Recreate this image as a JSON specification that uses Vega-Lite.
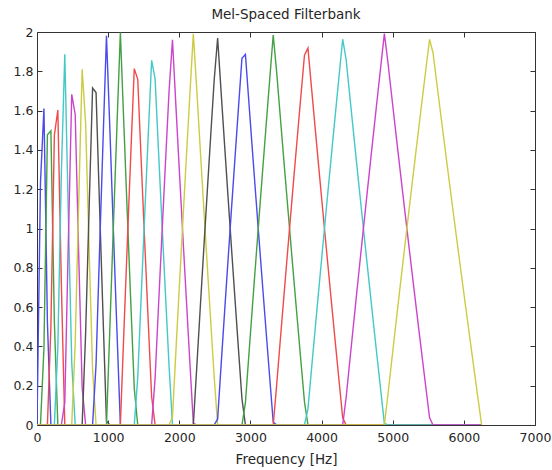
{
  "$schema": "https://vega.github.io/schema/vega-lite/v6.json",
  "width": 498,
  "height": 393,
  "autosize": {"type": "none"},
  "padding": {"left": 37, "top": 32, "right": 17, "bottom": 45},
  "background": "white",
  "title": {
    "text": "Mel-Spaced Filterbank",
    "font": "DejaVu Sans",
    "fontSize": 13.5,
    "fontWeight": "normal",
    "color": "#262626",
    "offset": 5
  },
  "config": {
    "view": {"stroke": "#333333", "strokeWidth": 1},
    "axis": {
      "grid": false,
      "domain": false,
      "tickColor": "#333333",
      "tickSize": -5,
      "tickWidth": 1,
      "labelFont": "DejaVu Sans",
      "labelFontSize": 12.5,
      "labelColor": "#262626",
      "titleFont": "DejaVu Sans",
      "titleFontSize": 13.5,
      "titleFontWeight": "normal",
      "titleColor": "#262626"
    }
  },
  "data": {
    "values": [
      {"k":"01","x":0,"y":0},{"k":"01","x":48.83,"y":1.2338},{"k":"01","x":97.66,"y":1.6104},{"k":"01","x":146.48,"y":0.5232},{"k":"01","x":195.31,"y":0},{"k":"01","x":6250,"y":0},
      {"k":"02","x":0,"y":0},{"k":"02","x":48.83,"y":0},{"k":"02","x":97.66,"y":0.3896},{"k":"02","x":146.48,"y":1.4768},{"k":"02","x":195.31,"y":1.4972},{"k":"02","x":244.14,"y":0.5254},{"k":"02","x":292.97,"y":0},{"k":"02","x":6250,"y":0},
      {"k":"03","x":0,"y":0},{"k":"03","x":146.48,"y":0},{"k":"03","x":195.31,"y":0.5028},{"k":"03","x":244.14,"y":1.4746},{"k":"03","x":292.97,"y":1.6028},{"k":"03","x":341.8,"y":0.7246},{"k":"03","x":390.63,"y":0},{"k":"03","x":6250,"y":0},
      {"k":"04","x":0,"y":0},{"k":"04","x":244.14,"y":0},{"k":"04","x":292.97,"y":0.3972},{"k":"04","x":341.8,"y":1.2754},{"k":"04","x":390.63,"y":1.8864},{"k":"04","x":439.45,"y":1.085},{"k":"04","x":488.28,"y":0.3172},{"k":"04","x":537.11,"y":0},{"k":"04","x":6250,"y":0},
      {"k":"05","x":0,"y":0},{"k":"05","x":341.8,"y":0},{"k":"05","x":390.63,"y":0.1136},{"k":"05","x":439.45,"y":0.915},{"k":"05","x":488.28,"y":1.6828},{"k":"05","x":537.11,"y":1.5804},{"k":"05","x":585.94,"y":0.8722},{"k":"05","x":634.77,"y":0.1902},{"k":"05","x":683.59,"y":0},{"k":"05","x":6250,"y":0},
      {"k":"06","x":0,"y":0},{"k":"06","x":488.28,"y":0},{"k":"06","x":537.11,"y":0.4196},{"k":"06","x":585.94,"y":1.1278},{"k":"06","x":634.77,"y":1.8098},{"k":"06","x":683.59,"y":1.533},{"k":"06","x":732.42,"y":0.8984},{"k":"06","x":781.25,"y":0.285},{"k":"06","x":830.08,"y":0},{"k":"06","x":6250,"y":0},
      {"k":"07","x":0,"y":0},{"k":"07","x":634.77,"y":0},{"k":"07","x":683.59,"y":0.467},{"k":"07","x":732.42,"y":1.1016},{"k":"07","x":781.25,"y":1.715},{"k":"07","x":830.08,"y":1.6916},{"k":"07","x":878.91,"y":1.1168},{"k":"07","x":927.73,"y":0.5596},{"k":"07","x":976.56,"y":0.0188},{"k":"07","x":1025.39,"y":0},{"k":"07","x":6250,"y":0},
      {"k":"08","x":0,"y":0},{"k":"08","x":781.25,"y":0},{"k":"08","x":830.08,"y":0.3084},{"k":"08","x":878.91,"y":0.8832},{"k":"08","x":927.73,"y":1.4404},{"k":"08","x":976.56,"y":1.9812},{"k":"08","x":1025.39,"y":1.4934},{"k":"08","x":1074.22,"y":0.9828},{"k":"08","x":1123.05,"y":0.486},{"k":"08","x":1171.88,"y":0.0024},{"k":"08","x":1220.7,"y":0},{"k":"08","x":6250,"y":0},
      {"k":"09","x":0,"y":0},{"k":"09","x":976.56,"y":0},{"k":"09","x":1025.39,"y":0.5066},{"k":"09","x":1074.22,"y":1.0172},{"k":"09","x":1123.05,"y":1.514},{"k":"09","x":1171.88,"y":1.9976},{"k":"09","x":1220.7,"y":1.5312},{"k":"09","x":1269.53,"y":1.072},{"k":"09","x":1318.36,"y":0.6238},{"k":"09","x":1367.19,"y":0.1864},{"k":"09","x":1416.02,"y":0},{"k":"09","x":6250,"y":0},
      {"k":"10","x":0,"y":0},{"k":"10","x":1171.88,"y":0},{"k":"10","x":1220.7,"y":0.4688},{"k":"10","x":1269.53,"y":0.928},{"k":"10","x":1318.36,"y":1.3762},{"k":"10","x":1367.19,"y":1.8136},{"k":"10","x":1416.02,"y":1.7592},{"k":"10","x":1464.84,"y":1.3418},{"k":"10","x":1513.67,"y":0.9338},{"k":"10","x":1562.5,"y":0.5346},{"k":"10","x":1611.33,"y":0.1438},{"k":"10","x":1660.16,"y":0},{"k":"10","x":6250,"y":0},
      {"k":"11","x":0,"y":0},{"k":"11","x":1367.19,"y":0},{"k":"11","x":1416.02,"y":0.2408},{"k":"11","x":1464.84,"y":0.6582},{"k":"11","x":1513.67,"y":1.0662},{"k":"11","x":1562.5,"y":1.4654},{"k":"11","x":1611.33,"y":1.8562},{"k":"11","x":1660.16,"y":1.7614},{"k":"11","x":1708.98,"y":1.3868},{"k":"11","x":1757.81,"y":1.0196},{"k":"11","x":1806.64,"y":0.6596},{"k":"11","x":1855.47,"y":0.3066},{"k":"11","x":1904.3,"y":0},{"k":"11","x":6250,"y":0},
      {"k":"12","x":0,"y":0},{"k":"12","x":1611.33,"y":0},{"k":"12","x":1660.16,"y":0.2386},{"k":"12","x":1708.98,"y":0.6132},{"k":"12","x":1757.81,"y":0.9804},{"k":"12","x":1806.64,"y":1.3404},{"k":"12","x":1855.47,"y":1.6934},{"k":"12","x":1904.3,"y":1.9602},{"k":"12","x":1953.13,"y":1.6204},{"k":"12","x":2001.95,"y":1.2868},{"k":"12","x":2050.78,"y":0.959},{"k":"12","x":2099.61,"y":0.637},{"k":"12","x":2148.44,"y":0.3206},{"k":"12","x":2197.27,"y":0.0096},{"k":"12","x":2246.09,"y":0},{"k":"12","x":6250,"y":0},
      {"k":"13","x":0,"y":0},{"k":"13","x":1855.47,"y":0},{"k":"13","x":1904.3,"y":0.0398},{"k":"13","x":1953.13,"y":0.3796},{"k":"13","x":2001.95,"y":0.7132},{"k":"13","x":2050.78,"y":1.041},{"k":"13","x":2099.61,"y":1.363},{"k":"13","x":2148.44,"y":1.6794},{"k":"13","x":2197.27,"y":1.9904},{"k":"13","x":2246.09,"y":1.7038},{"k":"13","x":2294.92,"y":1.403},{"k":"13","x":2343.75,"y":1.1072},{"k":"13","x":2392.58,"y":0.816},{"k":"13","x":2441.41,"y":0.5294},{"k":"13","x":2490.23,"y":0.2472},{"k":"13","x":2539.06,"y":0},{"k":"13","x":6250,"y":0},
      {"k":"14","x":0,"y":0},{"k":"14","x":2197.27,"y":0},{"k":"14","x":2246.09,"y":0.2962},{"k":"14","x":2294.92,"y":0.597},{"k":"14","x":2343.75,"y":0.8928},{"k":"14","x":2392.58,"y":1.184},{"k":"14","x":2441.41,"y":1.4706},{"k":"14","x":2490.23,"y":1.7528},{"k":"14","x":2539.06,"y":1.9692},{"k":"14","x":2587.89,"y":1.6954},{"k":"14","x":2636.72,"y":1.4256},{"k":"14","x":2685.55,"y":1.1598},{"k":"14","x":2734.38,"y":0.8978},{"k":"14","x":2783.2,"y":0.6396},{"k":"14","x":2832.03,"y":0.3848},{"k":"14","x":2880.86,"y":0.1336},{"k":"14","x":2929.69,"y":0},{"k":"14","x":6250,"y":0},
      {"k":"15","x":0,"y":0},{"k":"15","x":2490.23,"y":0},{"k":"15","x":2539.06,"y":0.0308},{"k":"15","x":2587.89,"y":0.3046},{"k":"15","x":2636.72,"y":0.5744},{"k":"15","x":2685.55,"y":0.8402},{"k":"15","x":2734.38,"y":1.1022},{"k":"15","x":2783.2,"y":1.3604},{"k":"15","x":2832.03,"y":1.6152},{"k":"15","x":2880.86,"y":1.8664},{"k":"15","x":2929.69,"y":1.8858},{"k":"15","x":2978.52,"y":1.6414},{"k":"15","x":3027.34,"y":1.4},{"k":"15","x":3076.17,"y":1.1618},{"k":"15","x":3125,"y":0.9268},{"k":"15","x":3173.83,"y":0.6946},{"k":"15","x":3222.66,"y":0.4654},{"k":"15","x":3271.48,"y":0.239},{"k":"15","x":3320.31,"y":0.0154},{"k":"15","x":3369.14,"y":0},{"k":"15","x":6250,"y":0},
      {"k":"16","x":0,"y":0},{"k":"16","x":2880.86,"y":0},{"k":"16","x":2929.69,"y":0.1142},{"k":"16","x":2978.52,"y":0.3586},{"k":"16","x":3027.34,"y":0.6},{"k":"16","x":3076.17,"y":0.8382},{"k":"16","x":3125,"y":1.0732},{"k":"16","x":3173.83,"y":1.3054},{"k":"16","x":3222.66,"y":1.5346},{"k":"16","x":3271.48,"y":1.761},{"k":"16","x":3320.31,"y":1.9846},{"k":"16","x":3369.14,"y":1.7946},{"k":"16","x":3417.97,"y":1.5764},{"k":"16","x":3466.8,"y":1.3606},{"k":"16","x":3515.63,"y":1.1476},{"k":"16","x":3564.45,"y":0.9368},{"k":"16","x":3613.28,"y":0.7286},{"k":"16","x":3662.11,"y":0.5226},{"k":"16","x":3710.94,"y":0.3188},{"k":"16","x":3759.77,"y":0.1174},{"k":"16","x":3808.59,"y":0},{"k":"16","x":6250,"y":0},
      {"k":"17","x":0,"y":0},{"k":"17","x":3320.31,"y":0},{"k":"17","x":3369.14,"y":0.2054},{"k":"17","x":3417.97,"y":0.4236},{"k":"17","x":3466.8,"y":0.6394},{"k":"17","x":3515.63,"y":0.8524},{"k":"17","x":3564.45,"y":1.0632},{"k":"17","x":3613.28,"y":1.2714},{"k":"17","x":3662.11,"y":1.4774},{"k":"17","x":3710.94,"y":1.6812},{"k":"17","x":3759.77,"y":1.8826},{"k":"17","x":3808.59,"y":1.9182},{"k":"17","x":3857.42,"y":1.721},{"k":"17","x":3906.25,"y":1.526},{"k":"17","x":3955.08,"y":1.333},{"k":"17","x":4003.91,"y":1.1422},{"k":"17","x":4052.73,"y":0.9532},{"k":"17","x":4101.56,"y":0.7662},{"k":"17","x":4150.39,"y":0.581},{"k":"17","x":4199.22,"y":0.3978},{"k":"17","x":4248.05,"y":0.2164},{"k":"17","x":4296.88,"y":0.0368},{"k":"17","x":4345.7,"y":0},{"k":"17","x":6250,"y":0},
      {"k":"18","x":0,"y":0},{"k":"18","x":3759.77,"y":0},{"k":"18","x":3808.59,"y":0.0818},{"k":"18","x":3857.42,"y":0.279},{"k":"18","x":3906.25,"y":0.474},{"k":"18","x":3955.08,"y":0.667},{"k":"18","x":4003.91,"y":0.8578},{"k":"18","x":4052.73,"y":1.0468},{"k":"18","x":4101.56,"y":1.2338},{"k":"18","x":4150.39,"y":1.419},{"k":"18","x":4199.22,"y":1.6022},{"k":"18","x":4248.05,"y":1.7836},{"k":"18","x":4296.88,"y":1.9632},{"k":"18","x":4345.7,"y":1.8588},{"k":"18","x":4394.53,"y":1.6826},{"k":"18","x":4443.36,"y":1.508},{"k":"18","x":4492.19,"y":1.3352},{"k":"18","x":4541.02,"y":1.164},{"k":"18","x":4589.84,"y":0.9942},{"k":"18","x":4638.67,"y":0.8262},{"k":"18","x":4687.5,"y":0.6596},{"k":"18","x":4736.33,"y":0.4944},{"k":"18","x":4785.16,"y":0.3308},{"k":"18","x":4833.98,"y":0.1688},{"k":"18","x":4882.81,"y":0.008},{"k":"18","x":4931.64,"y":0},{"k":"18","x":6250,"y":0},
      {"k":"19","x":0,"y":0},{"k":"19","x":4296.88,"y":0},{"k":"19","x":4345.7,"y":0.1412},{"k":"19","x":4394.53,"y":0.3174},{"k":"19","x":4443.36,"y":0.492},{"k":"19","x":4492.19,"y":0.6648},{"k":"19","x":4541.02,"y":0.836},{"k":"19","x":4589.84,"y":1.0058},{"k":"19","x":4638.67,"y":1.1738},{"k":"19","x":4687.5,"y":1.3404},{"k":"19","x":4736.33,"y":1.5056},{"k":"19","x":4785.16,"y":1.6692},{"k":"19","x":4833.98,"y":1.8312},{"k":"19","x":4882.81,"y":1.992},{"k":"19","x":4931.64,"y":1.8486},{"k":"19","x":4980.47,"y":1.6906},{"k":"19","x":5029.3,"y":1.534},{"k":"19","x":5078.13,"y":1.3788},{"k":"19","x":5126.95,"y":1.2248},{"k":"19","x":5175.78,"y":1.072},{"k":"19","x":5224.61,"y":0.9206},{"k":"19","x":5273.44,"y":0.7704},{"k":"19","x":5322.27,"y":0.6214},{"k":"19","x":5371.09,"y":0.4738},{"k":"19","x":5419.92,"y":0.3272},{"k":"19","x":5468.75,"y":0.1818},{"k":"19","x":5517.58,"y":0.0376},{"k":"19","x":5566.41,"y":0},{"k":"19","x":6250,"y":0},
      {"k":"20","x":0,"y":0},{"k":"20","x":4882.81,"y":0},{"k":"20","x":4931.64,"y":0.1514},{"k":"20","x":4980.47,"y":0.3094},{"k":"20","x":5029.3,"y":0.466},{"k":"20","x":5078.13,"y":0.6212},{"k":"20","x":5126.95,"y":0.7752},{"k":"20","x":5175.78,"y":0.928},{"k":"20","x":5224.61,"y":1.0794},{"k":"20","x":5273.44,"y":1.2296},{"k":"20","x":5322.27,"y":1.3786},{"k":"20","x":5371.09,"y":1.5262},{"k":"20","x":5419.92,"y":1.6728},{"k":"20","x":5468.75,"y":1.8182},{"k":"20","x":5517.58,"y":1.9624},{"k":"20","x":5566.41,"y":1.8944},{"k":"20","x":5615.23,"y":1.7526},{"k":"20","x":5664.06,"y":1.6118},{"k":"20","x":5712.89,"y":1.4718},{"k":"20","x":5761.72,"y":1.333},{"k":"20","x":5810.55,"y":1.1954},{"k":"20","x":5859.38,"y":1.0586},{"k":"20","x":5908.2,"y":0.9228},{"k":"20","x":5957.03,"y":0.7882},{"k":"20","x":6005.86,"y":0.6544},{"k":"20","x":6054.69,"y":0.5216},{"k":"20","x":6103.52,"y":0.3898},{"k":"20","x":6152.34,"y":0.259},{"k":"20","x":6201.17,"y":0.129},{"k":"20","x":6250,"y":0}
    ]
  },
  "layer": [
    {
      "mark": {"type": "line", "strokeWidth": 1.4, "clip": true},
      "encoding": {
        "x": {
          "field": "x",
          "type": "quantitative",
          "scale": {"domain": [0, 7000], "nice": false, "zero": false},
          "axis": {
            "values": [0, 1000, 2000, 3000, 4000, 5000, 6000, 7000],
            "format": "d",
            "title": "Frequency [Hz]",
            "labelPadding": 11,
            "titlePadding": 9,
            "labelFlush": false
          }
        },
        "y": {
          "field": "y",
          "type": "quantitative",
          "scale": {"domain": [0, 2], "nice": false},
          "axis": {
            "values": [0, 0.2, 0.4, 0.6, 0.8, 1, 1.2, 1.4, 1.6, 1.8, 2],
            "format": "~g",
            "title": null,
            "labelPadding": 9,
            "labelFlush": false
          }
        },
        "color": {
          "field": "k",
          "type": "nominal",
          "legend": null,
          "scale": {
            "domain": ["01","02","03","04","05","06","07","08","09","10","11","12","13","14","15","16","17","18","19","20"],
            "range": ["#4a4aee","#44a044","#f04a4a","#44c8c8","#cc44cc","#cccc44","#505050","#4a4aee","#44a044","#f04a4a","#44c8c8","#cc44cc","#cccc44","#505050","#4a4aee","#44a044","#f04a4a","#44c8c8","#cc44cc","#cccc44"]
          }
        }
      }
    },
    {
      "mark": {"type": "point", "opacity": 0},
      "encoding": {
        "x": {
          "field": "x",
          "type": "quantitative",
          "scale": {"domain": [0, 7000], "nice": false, "zero": false},
          "axis": {"orient": "top", "values": [0, 1000, 2000, 3000, 4000, 5000, 6000, 7000], "labels": false, "title": null}
        },
        "y": {
          "field": "y",
          "type": "quantitative",
          "scale": {"domain": [0, 2], "nice": false},
          "axis": {"orient": "right", "values": [0, 0.2, 0.4, 0.6, 0.8, 1, 1.2, 1.4, 1.6, 1.8, 2], "labels": false, "title": null}
        }
      }
    }
  ],
  "resolve": {"axis": {"x": "independent", "y": "independent"}}
}
